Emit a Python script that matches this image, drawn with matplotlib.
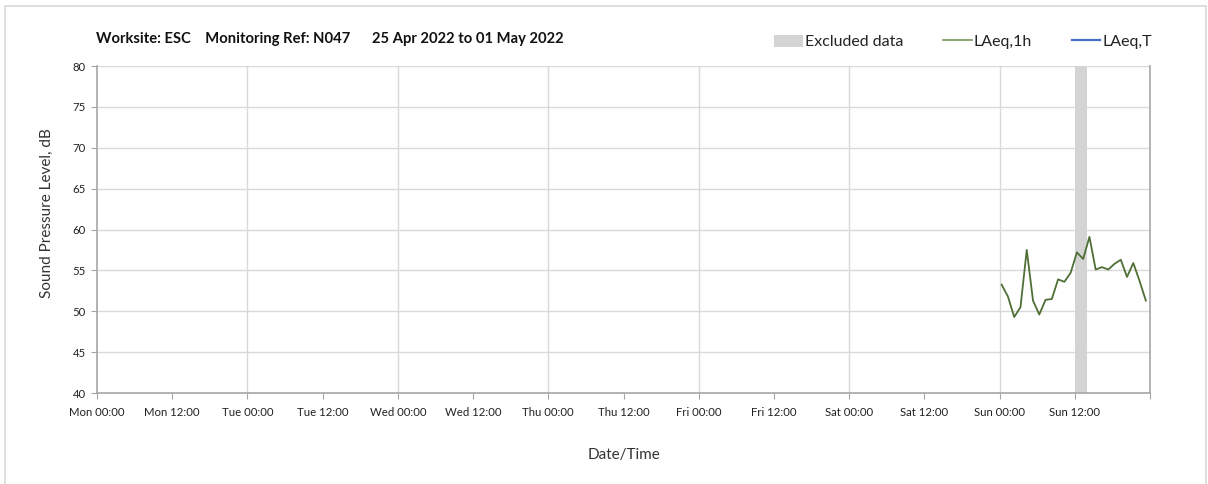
import matplotlib
matplotlib.use("Agg")
import matplotlib.pyplot as plt
from matplotlib.patches import Rectangle, Patch
from matplotlib.lines import Line2D
import numpy as np
import pandas as pd

plt.rcParams['font.family'] = ['Lato', 'DejaVu Sans']

# hourly LAeq,1h on Sun 01 May 2022
laeq_times = pd.date_range("2022-05-01 00:20", periods=24, freq="h")
laeq_1h = [53.25, 51.8, 49.3, 50.5, 57.5, 51.3, 49.6, 51.4, 51.5, 53.9, 53.6, 54.7,
           57.2, 56.4, 59.1, 55.1, 55.4, 55.1, 55.8, 56.3, 54.2, 55.9, 53.7, 51.3]

excluded_start = pd.Timestamp("2022-05-01 12:00")
excluded_end = pd.Timestamp("2022-05-01 14:00")

x_start = pd.Timestamp("2022-04-25 00:00")
x_end = pd.Timestamp("2022-05-02 00:00")

title = "Worksite: ESC    Monitoring Ref: N047      25 Apr 2022 to 01 May 2022"

fig = plt.figure(figsize=(12.08, 4.84), dpi=100)
ax = fig.add_axes([0.0803, 0.188, 0.952 - 0.0803, 0.8636 - 0.188])

# outer frame
fig.patches.append(Rectangle((5 / 1208, -0.01), 1201 / 1208, 1 - 6 / 484 + 0.01,
                             transform=fig.transFigure, fill=False,
                             edgecolor='#d9d9d9', linewidth=1.2))

ax.axvspan(excluded_start, excluded_end, color='#d4d4d4', linewidth=0, zorder=1)
ax.plot(laeq_times, laeq_1h, color='#4f6f36', linewidth=1.3, zorder=3)

ax.set_xlim(x_start, x_end)
ax.set_ylim(40, 80)
ax.set_yticks(np.arange(40, 81, 5))

ticks = pd.date_range(x_start, x_end, freq='12h')
ax.set_xticks(ticks)
ax.set_xticklabels([t.strftime('%a %H:%M') for t in ticks[:-1]] + [''])
ax.tick_params(axis='x', labelsize=8.2, length=4, color='#a6a6a6', pad=6, labelcolor='#222222')
ax.tick_params(axis='y', labelsize=8.2, length=4, color='#a6a6a6', pad=4, labelcolor='#222222')

ax.grid(False)
for d in pd.date_range(x_start, x_end, freq='D')[1:-1]:
    ax.axvline(d, color='#d9d9d9', linewidth=1, zorder=0)
for v in range(45, 81, 5):
    ax.axhline(v, color='#d9d9d9', linewidth=1, zorder=0)

for s in ['left', 'bottom', 'right']:
    ax.spines[s].set_color('#a6a6a6')
    ax.spines[s].set_linewidth(1.2)
ax.spines['top'].set_visible(False)

ax.set_ylabel("Sound Pressure Level, dB", fontsize=11, color='#333333')
ax.yaxis.set_label_coords(-0.041, 0.55)
ax.set_xlabel("Date/Time", fontsize=11, color='#333333', labelpad=22)

fig.text(96 / 1208, 1 - 39 / 484, title, fontsize=10.6, fontweight='bold',
         ha='left', va='center', color='#111111')

handles = [Patch(facecolor='#d4d4d4', edgecolor='none'),
           Line2D([], [], color='#7a9a5c', linewidth=1.2),
           Line2D([], [], color='#4472c4', linewidth=1.6)]
fig.legend(handles, ["Excluded data", "LAeq,1h", "LAeq,T"],
           loc='center right', bbox_to_anchor=(1166 / 1208, 1 - 42 / 484),
           ncol=3, frameon=False, fontsize=11.5, handlelength=1.8,
           handletextpad=0.1, columnspacing=2.5, handleheight=0.8,
           labelcolor='#222222')

fig.savefig("out.png", dpi=100)
